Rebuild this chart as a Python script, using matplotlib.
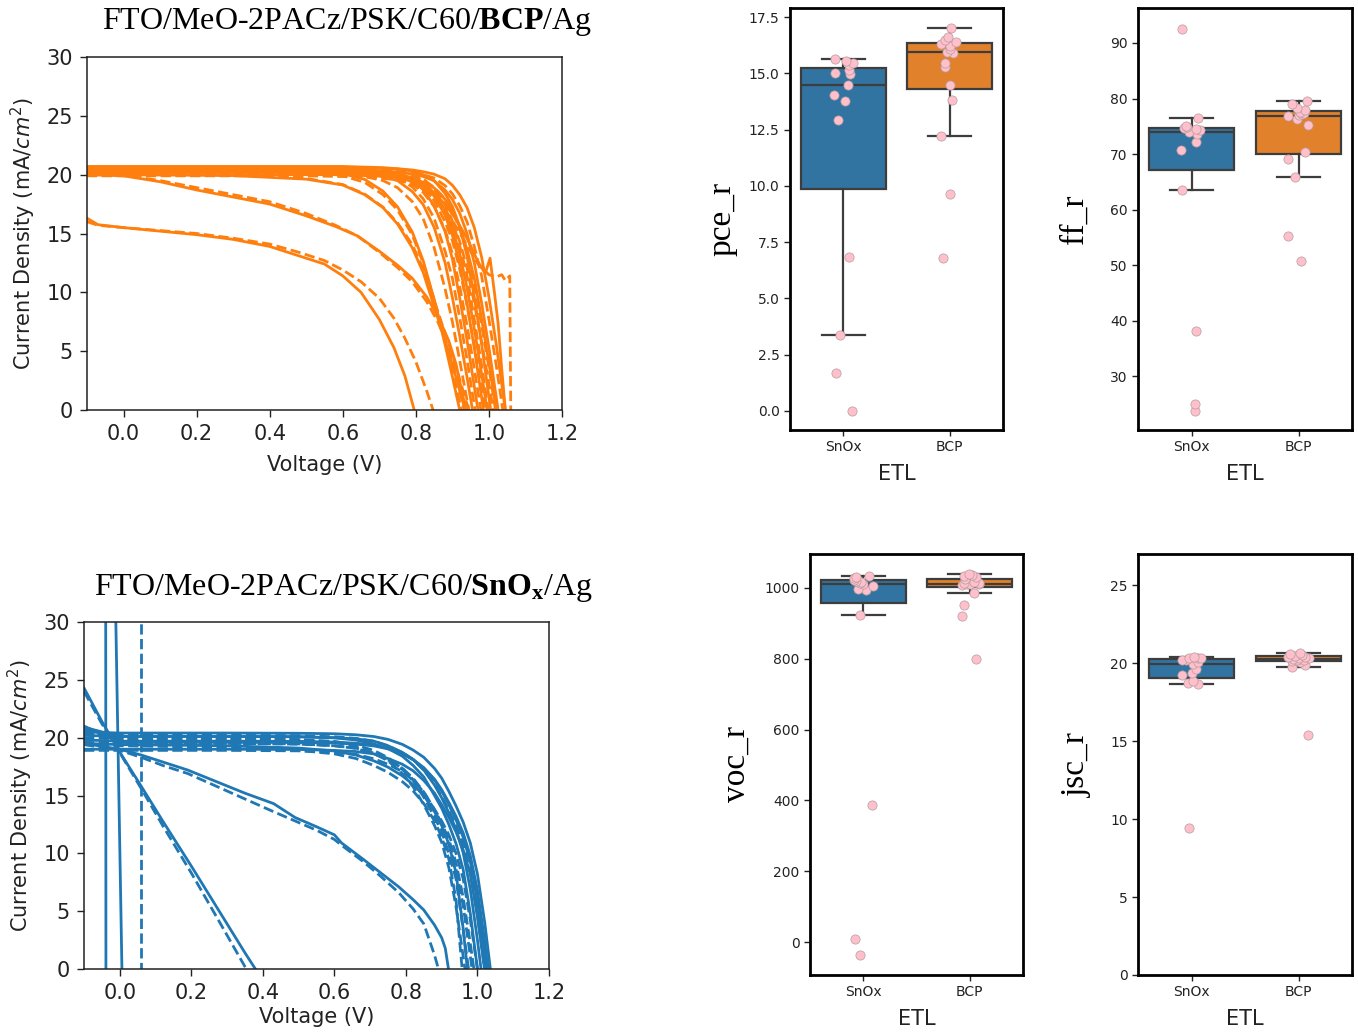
import numpy as np
import matplotlib
matplotlib.use("Agg")
import matplotlib.pyplot as plt

plt.rcParams['font.family'] = ['DejaVu Sans']
plt.rcParams['mathtext.rm'] = 'Liberation Serif'
plt.rcParams['mathtext.bf'] = 'Liberation Serif:bold'
plt.rcParams['mathtext.it'] = 'Liberation Serif:italic'

# ---------------- J-V data: shared voltage grid (V) ----------------
jv_v = [-0.1, 0.0, 0.3, 0.5, 0.6, 0.66, 0.71, 0.75, 0.79, 0.82, 0.85, 0.88, 0.9, 0.92, 0.94, 0.96, 0.98, 1.0, 1.02, 1.04, 1.06, 1.1]

# ---------------- BCP devices (orange), J in mA/cm2 ----------------
bcp_rev = [
    [20.6, 20.6, 20.6, 20.6, 20.58, 20.56, 20.52, 20.5, 20.4, 20.25, 20.04, 19.65, 19.1, 18.3, 17.2, 15.5, 13.0, 9.6, 5.6, 1.1, -3.4, -12.5],
    [20.4, 20.4, 20.4, 20.4, 20.4, 20.34, 20.3, 20.24, 20.05, 19.85, 19.48, 18.69, 17.9, 16.73, 15.0, 12.5, 9.1, 5.3, 1.1, -3.2, -7.5, -16.0],
    [20.7, 20.7, 20.7, 20.7, 20.7, 20.64, 20.6, 20.5, 20.3, 20.0, 19.5, 18.4, 17.3, 15.6, 13.1, 9.6, 5.6, 1.1, -3.4, -8.0, -12.5, -21.6],
    [20.2, 20.2, 20.2, 20.2, 20.16, 20.1, 20.04, 19.86, 19.55, 19.09, 18.18, 16.56, 14.85, 12.38, 9.03, 5.25, 1.07, -3.2, -7.4, -11.6, -15.9, -24.3],
    [20.5, 20.5, 20.5, 20.5, 20.42, 20.38, 20.23, 19.99, 19.54, 18.72, 17.36, 15.17, 12.83, 9.53, 5.95, 2.0, -2.0, -6.15, -10.2, -14.35, -18.45, -26.6],
    [20.3, 20.3, 20.3, 20.3, 20.2, 20.1, 19.83, 19.49, 18.57, 17.46, 15.53, 12.52, 9.55, 6.3, 2.8, -0.9, -4.65, -8.4, -12.1, -15.8, -19.5, -27.0],
    [20.05, 20.0, 19.92, 19.62, 19.12, 18.3, 17.2, 15.8, 13.8, 11.7, 8.8, 5.9, 3.85, 1.65, -0.55, -2.75, -4.95, -7.15, -9.35, -11.55, -13.75, -18.15],
    [20.6, 20.6, 20.6, 20.41, 20.09, 19.6, 18.6, 17.26, 15.14, 12.7, 9.4, 5.56, 2.83, 0.0, -2.83, -5.67, -8.5, -11.3, -14.2, -17.0, -19.8, -25.5],
    [20.0, 20.0, 20.0, 20.0, 20.0, 19.92, 19.88, 19.78, 19.58, 19.32, 18.88, 17.9, 16.94, 15.6, 13.64, 11.2, 7.74, 4.0, 0.0, -4.0, -8.0, -16.0],
    [20.4, 20.4, 20.4, 20.4, 20.34, 20.3, 20.2, 20.05, 19.75, 19.34, 18.46, 17.0, 15.4, 13.3, 10.4, 6.9, 3.06, -1.0, -5.1, -9.2, -13.3, -21.4],
]
bcp_fwd = [
    [20.5, 20.5, 20.5, 20.5, 20.5, 20.44, 20.4, 20.34, 20.19, 20.0, 19.72, 19.07, 18.37, 17.37, 16.0, 13.9, 11.4, 7.7, 3.8, -0.4, -4.5, -12.9],
    [20.3, 20.3, 20.3, 20.3, 20.26, 20.2, 20.15, 20.04, 19.8, 19.55, 18.94, 17.94, 16.9, 15.4, 13.4, 10.6, 7.2, 3.6, -0.4, -4.3, -8.3, -16.2],
    [20.6, 20.6, 20.6, 20.6, 20.56, 20.5, 20.43, 20.29, 20.02, 19.65, 18.83, 17.45, 16.07, 13.97, 11.43, 7.7, 3.8, -0.4, -4.5, -8.8, -13.0, -21.4],
    [20.1, 20.1, 20.1, 20.1, 20.02, 19.98, 19.84, 19.62, 19.2, 18.5, 17.3, 15.3, 13.3, 10.5, 7.2, 3.5, -0.4, -4.3, -8.2, -12.1, -16.0, -23.9],
    [20.4, 20.4, 20.4, 20.4, 20.3, 20.2, 20.0, 19.69, 18.97, 17.95, 16.3, 13.5, 11.2, 7.85, 4.3, 0.4, -3.4, -7.2, -11.0, -14.8, -18.6, -26.2],
    [20.2, 20.2, 20.2, 20.12, 20.02, 19.84, 19.5, 18.89, 17.72, 16.26, 13.8, 10.3, 7.5, 4.2, 0.85, -2.6, -6.0, -9.4, -12.8, -16.2, -19.6, -26.5],
    [20.15, 20.1, 20.0, 19.68, 19.16, 18.35, 17.25, 15.9, 14.07, 12.0, 9.35, 6.5, 4.7, 2.6, 0.5, -1.6, -3.7, -5.8, -7.9, -10.0, -12.0, -16.2],
    [20.5, 20.5, 20.5, 20.3, 19.9, 19.35, 18.3, 17.0, 14.9, 12.5, 9.35, 5.8, 3.3, 0.66, -2.0, -4.6, -7.3, -9.9, -12.6, -15.3, -17.9, -23.2],
    [19.9, 19.9, 19.9, 19.9, 19.84, 19.8, 19.7, 19.54, 19.3, 18.94, 18.19, 17.05, 15.92, 14.33, 12.08, 9.07, 5.77, 2.23, -1.5, -5.2, -8.9, -16.3],
    [20.3, 20.3, 20.3, 20.3, 20.22, 20.18, 20.04, 19.81, 19.45, 18.8, 17.8, 16.0, 14.4, 12.0, 8.9, 5.5, 1.9, -1.9, -5.7, -9.5, -13.2, -20.8],
]
# device with sloped curve
bcp_slope_v = [-0.1, 0.0, 0.1, 0.2, 0.3, 0.4, 0.5, 0.58, 0.64, 0.7, 0.75, 0.79, 0.83, 0.86, 0.89, 0.91, 0.93, 0.95]
bcp_slope_rev = [20.0, 19.9, 19.4, 18.7, 18.1, 17.5, 16.5, 15.6, 14.8, 13.5, 12.3, 11.2, 9.6, 8.0, 5.9, 3.9, 1.0, -1.8]
bcp_slope_fwd = [20.0, 19.95, 19.5, 18.9, 18.3, 17.7, 16.7, 15.7, 14.8, 13.4, 12.1, 10.9, 9.2, 7.5, 5.3, 3.2, 0.3, -2.5]
# device with low current
bcp_low_v = [-0.1, -0.07, 0.0, 0.1, 0.2, 0.3, 0.4, 0.48, 0.55, 0.6, 0.65, 0.7, 0.74, 0.77, 0.8, 0.83, 0.86]
bcp_low_rev = [16.3, 15.75, 15.5, 15.2, 14.9, 14.5, 13.9, 13.1, 12.4, 11.4, 10.0, 7.7, 5.3, 2.9, -0.5, -3.5, -7.0]
bcp_low_fwd = [16.0, 15.7, 15.5, 15.25, 15.0, 14.6, 14.1, 13.4, 12.7, 11.9, 10.9, 9.5, 7.8, 6.1, 4.1, 1.6, -1.2]
# devices with measurement glitches near Voc
bcp_spike_v = [-0.1, 0.0, 0.4, 0.6, 0.7, 0.76, 0.81, 0.85, 0.88, 0.91, 0.94, 0.97, 0.99, 1.003, 1.015, 1.025, 1.035, 1.045, 1.06]
bcp_spike_j = [20.3, 20.3, 20.25, 20.15, 20.0, 19.7, 19.2, 18.4, 17.5, 16.2, 14.6, 12.6, 11.6, 12.9, 10.0, 7.4, 3.5, 0.0, -3.0]
bcp_step_v = [-0.1, 0.0, 0.4, 0.6, 0.7, 0.76, 0.81, 0.85, 0.88, 0.91, 0.94, 0.97, 1.0, 1.02, 1.035, 1.045, 1.057, 1.06]
bcp_step_j = [20.2, 20.2, 20.15, 20.05, 19.85, 19.5, 18.9, 18.0, 17.0, 15.6, 14.0, 12.4, 11.5, 11.3, 11.5, 11.0, 11.4, -1.0]

# ---------------- SnOx devices (blue) ----------------
sn_rev = [
    [20.5, 20.4, 20.4, 20.38, 20.34, 20.25, 20.1, 19.85, 19.42, 18.93, 18.3, 17.34, 16.5, 15.36, 14.1, 12.7, 10.9, 8.2, 4.08, -1.0, -6.1, -16.3],
    [19.8, 19.7, 19.7, 19.68, 19.62, 19.52, 19.37, 19.07, 18.66, 18.1, 17.38, 16.35, 15.37, 14.2, 12.9, 11.4, 9.26, 5.9, 1.2, -3.7, -8.6, -18.5],
    [20.9, 20.1, 20.1, 20.08, 20.0, 19.9, 19.7, 19.3, 18.73, 18.13, 17.2, 15.9, 14.8, 13.5, 12.1, 10.05, 6.9, 2.5, -2.5, -7.5, -12.6, -22.6],
    [19.0, 19.0, 19.0, 18.98, 18.9, 18.8, 18.6, 18.2, 17.7, 17.14, 16.3, 15.2, 14.2, 13.1, 11.85, 10.3, 8.2, 4.5, 0.0, -4.5, -9.0, -18.1],
    [19.5, 19.4, 19.3, 19.1, 18.85, 18.5, 18.0, 17.45, 16.7, 15.95, 15.0, 13.6, 12.4, 10.8, 8.3, 3.5, -2.5, -8.0, -13.0, -18.0, -23.0, -33.0],
    [20.2, 20.1, 20.1, 20.08, 19.98, 19.8, 19.46, 19.05, 18.4, 17.6, 16.6, 15.0, 13.9, 12.5, 10.85, 8.6, 4.8, 0.0, -4.8, -9.6, -14.3, -23.9],
    [21.0, 19.6, 19.6, 19.58, 19.54, 19.44, 19.29, 19.03, 18.6, 18.1, 17.4, 16.4, 15.5, 14.4, 13.2, 11.76, 9.8, 6.8, 2.45, -2.45, -7.35, -17.15],
]
sn_fwd = [
    [20.3, 20.2, 20.2, 20.18, 20.08, 19.94, 19.7, 19.3, 18.7, 18.1, 17.2, 16.0, 14.9, 13.7, 12.4, 10.8, 8.4, 4.7, 0.0, -4.7, -9.35, -18.7],
    [19.6, 19.5, 19.5, 19.46, 19.3, 19.1, 18.66, 18.1, 17.36, 16.5, 15.3, 13.75, 12.6, 11.2, 9.2, 6.2, 2.2, -2.2, -6.6, -11.1, -15.5, -24.4],
    [20.6, 19.9, 19.9, 19.84, 19.68, 19.36, 18.9, 18.27, 17.35, 16.36, 14.85, 13.1, 11.9, 9.95, 7.8, 3.4, -1.1, -5.6, -10.2, -14.7, -19.2, -28.3],
    [18.9, 18.9, 18.9, 18.86, 18.73, 18.56, 18.18, 17.7, 17.07, 16.3, 15.3, 13.8, 12.8, 11.6, 10.0, 7.8, 4.25, 0.0, -4.25, -8.5, -12.9, -21.5],
    [19.4, 19.3, 19.15, 18.9, 18.6, 18.2, 17.6, 17.0, 16.2, 15.4, 14.3, 12.8, 11.4, 9.5, 6.0, -1.0, -6.0, -11.0, -16.0, -21.0, -26.0, -36.0],
    [20.0, 19.9, 19.9, 19.82, 19.6, 19.22, 18.65, 18.0, 16.9, 15.76, 14.2, 12.4, 10.95, 8.76, 5.4, 1.1, -3.3, -7.8, -12.2, -16.7, -21.1, -30.0],
    [20.8, 19.5, 19.5, 19.44, 19.3, 19.07, 18.62, 18.08, 17.26, 16.34, 15.07, 13.46, 12.2, 10.8, 8.7, 5.5, 1.1, -3.3, -7.8, -12.2, -16.6, -25.5],
]
# device with S-shaped curve
sn_s_v = [-0.1, 0.0, 0.06, 0.12, 0.19, 0.27, 0.35, 0.43, 0.49, 0.55, 0.6, 0.62, 0.68, 0.73, 0.78, 0.82, 0.85, 0.88, 0.9, 0.91, 0.92, 0.94]
sn_s_rev = [19.5, 19.0, 18.5, 17.9, 17.2, 16.2, 15.2, 14.3, 13.1, 12.3, 11.6, 10.9, 9.5, 8.3, 7.1, 6.0, 5.1, 3.8, 2.7, 1.8, -0.2, -4.0]
sn_s_fwd = [19.4, 18.9, 18.3, 17.6, 16.9, 15.8, 14.7, 13.6, 12.8, 12.0, 11.2, 10.7, 9.3, 8.0, 6.6, 5.2, 3.9, 1.2, -1.0, -2.2, -3.5, -6.0]
# device with ohmic (linear) curve
sn_lin_v = [-0.1, -0.05, 0.0, 0.06, 0.12, 0.2, 0.28, 0.35, 0.4, 0.45]
sn_lin_rev = [24.3, 21.4, 18.75, 15.8, 12.8, 8.9, 4.9, 1.4, -1.0, -3.5]
sn_lin_fwd = [24.0, 21.2, 18.7, 15.6, 12.4, 8.3, 4.0, 0.2, -2.3, -5.0]
# shorted devices
sn_short1_v = [-0.0395, -0.0385]
sn_short1_j = [40.0, -10.0]
sn_short2_v = [-0.0297, 0.0117]
sn_short2_j = [63.0, -10.0]
sn_short3_v = [0.058, 0.058]
sn_short3_j = [40.0, -10.0]

# ---------------- box plot data ----------------
etl_labels = ["SnOx", "BCP"]

pce_snox = [0.0, 1.70, 3.38, 6.84, 12.91, 13.77, 14.04, 14.47, 14.95, 15.03, 15.15, 15.35, 15.46, 15.55, 15.62]
pce_snox_dx = [0.08, -0.066, -0.03, 0.05, -0.05, 0.02, -0.085, 0.04, 0.06, -0.08, 0.05, 0.055, 0.095, 0.03, -0.08]
pce_bcp = [6.81, 9.62, 12.2, 13.8, 14.48, 15.28, 15.46, 15.9, 15.95, 16.1, 16.2, 16.32, 16.39, 16.5, 16.61, 17.03]
pce_bcp_dx = [-0.06, 0.0, -0.08, 0.02, 0.005, -0.04, -0.045, 0.03, -0.03, 0.0, 0.005, -0.08, 0.055, -0.045, -0.015, 0.015]

ff_snox = [23.7, 24.96, 38.16, 63.5, 70.68, 72.18, 73.68, 73.92, 74.3, 74.5, 74.7, 74.85, 75.0, 76.56, 92.58]
ff_snox_dx = [0.03, 0.035, 0.04, -0.09, -0.095, 0.04, 0.055, -0.02, 0.08, 0.04, -0.07, -0.04, -0.055, 0.06, -0.085]
ff_bcp = [50.7, 55.32, 65.82, 69.06, 70.32, 75.3, 76.38, 76.86, 77.0, 77.2, 77.4, 77.6, 77.9, 78.3, 78.96, 79.6]
ff_bcp_dx = [0.02, -0.1, -0.03, -0.1, 0.065, 0.09, -0.015, -0.1, 0.0, 0.03, 0.05, 0.015, 0.065, -0.015, -0.065, 0.08]

voc_snox = [-37.6, 8.5, 386, 923, 994, 998, 1005, 1011, 1014, 1017, 1020, 1023, 1027, 1031, 1035]
voc_snox_dx = [-0.03, -0.08, 0.08, -0.03, 0.03, -0.05, 0.095, 0.0, -0.03, -0.025, -0.065, -0.085, -0.09, -0.065, 0.05]
voc_bcp = [799, 921, 953, 987, 1009.7, 1010, 1011, 1012, 1013, 1015, 1018, 1025, 1030, 1033, 1036, 1040]
voc_bcp_dx = [0.055, -0.07, -0.055, 0.04, -0.07, 0.085, -0.025, 0.005, -0.055, 0.085, 0.04, -0.04, 0.055, -0.055, 0.02, -0.01]

jsc_snox = [9.4, 18.65, 18.75, 18.85, 19.27, 19.38, 19.6, 19.94, 20.1, 20.2, 20.22, 20.3, 20.33, 20.35, 20.4]
jsc_snox_dx = [-0.02, 0.06, -0.03, 0.01, -0.085, 0.0, 0.04, 0.01, 0.06, -0.055, -0.085, 0.06, -0.02, 0.09, 0.025]
jsc_bcp = [15.4, 19.76, 19.85, 20.05, 20.13, 20.18, 20.22, 20.26, 20.3, 20.33, 20.37, 20.42, 20.47, 20.52, 20.57, 20.62]
jsc_bcp_dx = [0.085, -0.06, 0.065, 0.015, -0.065, -0.015, 0.05, -0.05, 0.0, 0.095, -0.095, 0.065, -0.03, 0.03, -0.08, 0.015]

# ---------------- styles ----------------
ORANGE = '#ff7f0e'
BLUE = '#1f77b4'
BOX_COLORS = ['#3274a1', '#e1812c']
GRAY = '#3d3d3d'
LW = 2.0

W, H = 1358, 1032
fig = plt.figure(figsize=(W / 100, H / 100), dpi=100)


def rect(l, t, r, b):
    return [l / W, 1 - b / H, (r - l) / W, (b - t) / H]


def jv_axes(ax, xlabelpad):
    ax.set_xlim(-0.1, 1.2)
    ax.set_ylim(0, 30)
    ax.set_xticks([0.0, 0.2, 0.4, 0.6, 0.8, 1.0, 1.2])
    ax.set_xticklabels(['0.0', '0.2', '0.4', '0.6', '0.8', '1.0', '1.2'])
    ax.set_yticks([0, 5, 10, 15, 20, 25, 30])
    ax.tick_params(labelsize=15, length=5, width=1.0, colors='#222222', pad=5)
    for s in ax.spines.values():
        s.set_linewidth(1.1)
        s.set_color('#222222')
    ax.set_xlabel('Voltage (V)', fontsize=15, color='#222222', labelpad=xlabelpad)
    ax.set_ylabel('Current Density (mA/$cm^2$)', fontsize=15, color='#222222', labelpad=6)


# ---- top-left: BCP J-V ----
ax1 = fig.add_axes(rect(87, 57, 562, 410))
for jr in bcp_rev:
    ax1.plot(jv_v, jr, color=ORANGE, lw=LW, ls='-')
for jf in bcp_fwd:
    ax1.plot(jv_v, jf, color=ORANGE, lw=LW, ls='--')
ax1.plot(bcp_slope_v, bcp_slope_rev, color=ORANGE, lw=LW, ls='-')
ax1.plot(bcp_slope_v, bcp_slope_fwd, color=ORANGE, lw=LW, ls='--')
ax1.plot(bcp_low_v, bcp_low_rev, color=ORANGE, lw=LW, ls='-')
ax1.plot(bcp_low_v, bcp_low_fwd, color=ORANGE, lw=LW, ls='--')
ax1.plot(bcp_spike_v, bcp_spike_j, color=ORANGE, lw=LW, ls='-')
ax1.plot(bcp_step_v, bcp_step_j, color=ORANGE, lw=LW, ls='--')
jv_axes(ax1, 8)

# ---- bottom-left: SnOx J-V ----
ax2 = fig.add_axes(rect(84, 622, 549, 969))
for jr in sn_rev:
    ax2.plot(jv_v, jr, color=BLUE, lw=LW, ls='-')
for jf in sn_fwd:
    ax2.plot(jv_v, jf, color=BLUE, lw=LW, ls='--')
ax2.plot(sn_s_v, sn_s_rev, color=BLUE, lw=LW, ls='-')
ax2.plot(sn_s_v, sn_s_fwd, color=BLUE, lw=LW, ls='--')
ax2.plot(sn_lin_v, sn_lin_rev, color=BLUE, lw=LW, ls='-')
ax2.plot(sn_lin_v, sn_lin_fwd, color=BLUE, lw=LW, ls='--')
ax2.plot(sn_short1_v, sn_short1_j, color=BLUE, lw=LW, ls='-')
ax2.plot(sn_short2_v, sn_short2_j, color=BLUE, lw=LW, ls='-')
ax2.plot(sn_short3_v, sn_short3_j, color=BLUE, lw=LW, ls='--')
jv_axes(ax2, 3)

# ---- titles ----
fig.text(347.5 / W, 1 - 22 / H, r'FTO/MeO-2PACz/PSK/C60/$\mathbf{BCP}$/Ag',
         fontfamily='Liberation Serif', math_fontfamily='custom', fontsize=23,
         ha='center', va='center', color='black')
fig.text(344 / W, 1 - 588 / H, r'FTO/MeO-2PACz/PSK/C60/$\mathbf{SnO_x}$/Ag',
         fontfamily='Liberation Serif', math_fontfamily='custom', fontsize=23,
         ha='center', va='center', color='black')


def box_panel(ax, snox, snox_dx, bcp, bcp_dx, ylabel, ylim, yticks, ticklabels, lab_x):
    bp = ax.boxplot([snox, bcp], positions=[0, 1], widths=0.8, patch_artist=True,
                    showfliers=False, whis=1.5, capwidths=0.4,
                    boxprops=dict(edgecolor=GRAY, linewidth=1.6),
                    medianprops=dict(color=GRAY, linewidth=1.6),
                    whiskerprops=dict(color=GRAY, linewidth=1.6),
                    capprops=dict(color=GRAY, linewidth=1.6))
    for patch, c in zip(bp['boxes'], BOX_COLORS):
        patch.set_facecolor(c)
    ax.scatter(0 + np.array(snox_dx), snox, s=44, c='pink', edgecolors='#b39ca0',
               linewidths=0.5, zorder=4)
    ax.scatter(1 + np.array(bcp_dx), bcp, s=44, c='pink', edgecolors='#b39ca0',
               linewidths=0.5, zorder=4)
    ax.set_xlim(-0.5, 1.5)
    ax.set_ylim(*ylim)
    ax.set_xticks([0, 1])
    ax.set_xticklabels(etl_labels)
    ax.set_yticks(yticks)
    ax.set_yticklabels(ticklabels)
    ax.tick_params(labelsize=10, length=4, width=1.0, colors='#222222')
    for s in ax.spines.values():
        s.set_linewidth(2.0)
        s.set_color('black')
    ax.set_xlabel('ETL', fontsize=15, color='#222222', labelpad=7)
    ax.set_ylabel(ylabel, fontsize=24, fontfamily='Liberation Serif', color='black')
    ax.yaxis.set_label_coords(lab_x, 0.5)


ax3 = fig.add_axes(rect(790, 8, 1003, 430))
box_panel(ax3, pce_snox, pce_snox_dx, pce_bcp, pce_bcp_dx, 'pce_r', (-0.85, 17.9),
          [0, 2.5, 5, 7.5, 10, 12.5, 15, 17.5],
          ['0.0', '2.5', '5.0', '7.5', '10.0', '12.5', '15.0', '17.5'], -0.245)

ax4 = fig.add_axes(rect(1138, 8, 1352, 430))
box_panel(ax4, ff_snox, ff_snox_dx, ff_bcp, ff_bcp_dx, 'ff_r', (20.3, 96.3),
          [30, 40, 50, 60, 70, 80, 90],
          ['30', '40', '50', '60', '70', '80', '90'], -0.225)

ax5 = fig.add_axes(rect(810, 554, 1023, 975))
box_panel(ax5, voc_snox, voc_snox_dx, voc_bcp, voc_bcp_dx, 'voc_r', (-93, 1096),
          [0, 200, 400, 600, 800, 1000],
          ['0', '200', '400', '600', '800', '1000'], -0.275)

ax6 = fig.add_axes(rect(1138, 554, 1352, 975))
box_panel(ax6, jsc_snox, jsc_snox_dx, jsc_bcp, jsc_bcp_dx, 'jsc_r', (0, 27.0),
          [0, 5, 10, 15, 20, 25],
          ['0', '5', '10', '15', '20', '25'], -0.215)

fig.savefig('out.png', dpi=100)
